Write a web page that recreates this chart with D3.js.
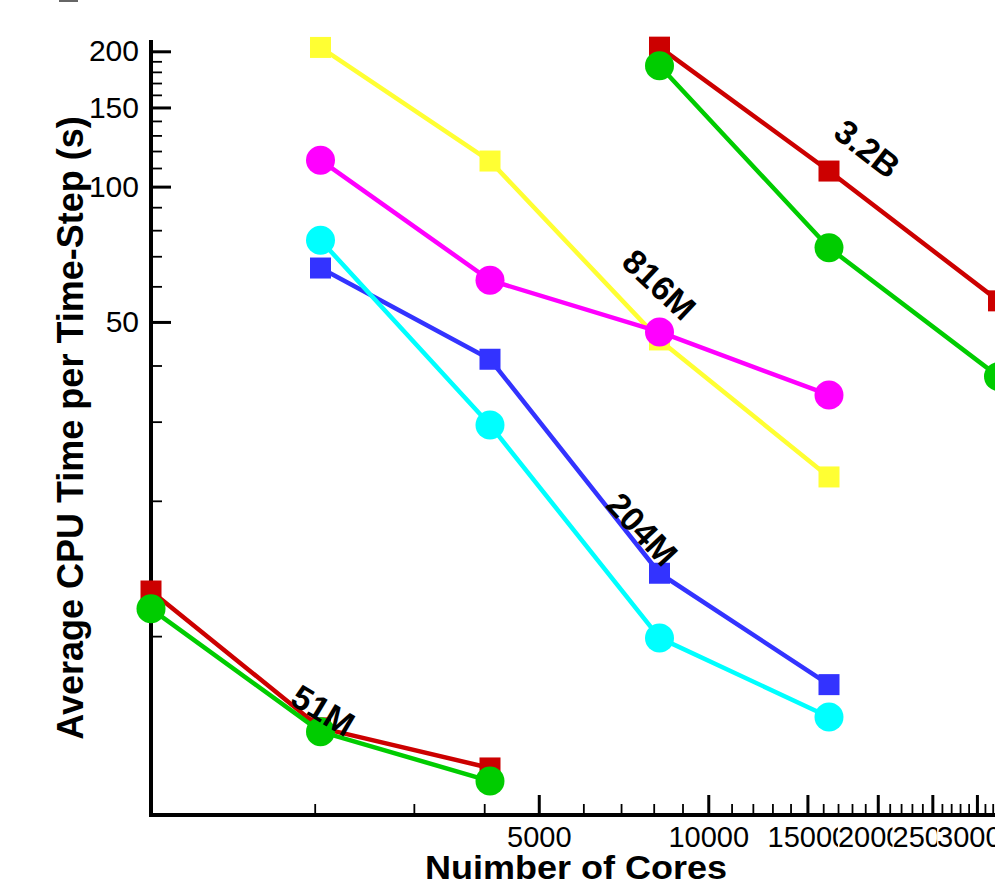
<!DOCTYPE html>
<html>
<head>
<meta charset="utf-8">
<script src="https://cdn.jsdelivr.net/npm/d3@7"></script>
<style>
  body { margin: 0; background: #fff; }
  svg { display: block; font-family: "Liberation Sans", Arial, Helvetica, sans-serif; }
</style>
</head>
<body>
<div id="chart"></div>
<script>
// number of cores used in the runs
const cores = [1024, 2048, 4096, 8192, 16384, 32768];
const cores51M = [1024, 2048, 4096];
const cores204M = [2048, 4096, 8192, 16384];
const cores816M = [2048, 4096, 8192, 16384];
const cores32B = [8192, 16384, 32768];

// average cpu time per time-step (s)
const sq51M = [12.6, 6.25, 5.09];
const ci51M = [11.5, 6.13, 4.76];
const sq204M = [65.9, 41.3, 13.8, 7.8];
const ci204M = [76.0, 29.5, 9.91, 6.61];
const sq816M = [204, 114, 45.6, 22.6];
const ci816M = [114.5, 61.9, 47.5, 34.4];
const sq32B = [204.3, 108.3, 55.7];
const ci32B = [185.8, 73.1, 37.8];

// axis ticks
const xMajor = [5000, 10000, 15000, 20000, 25000, 30000];
const xMinor = d3.range(2000, 33000, 1000).filter((v) => v % 5000 !== 0);
const yMajor = [50, 100, 150, 200];
const yMinor = [10, 20, 30, 40, 60, 70, 80, 90, 110, 120, 130, 140, 160, 170, 180, 190];

// mesh size labels (placed in data coords)
const meshLabels = ["51M", "204M", "816M", "3.2B"];
const labelCores = [2070, 7640, 8192, 19180];
const labelTimes = [6.85, 17.3, 60.6, 121.6];
const labelAngles = [31, 47, 43, 38];

const width = 995,
  height = 886;

const svg = d3
  .select("#chart")
  .append("svg")
  .attr("width", width)
  .attr("height", height)
  .attr("viewBox", `0 0 ${width} ${height}`);

svg.append("rect").attr("width", width).attr("height", height).attr("fill", "#fff");
svg.append("rect").attr("x", 59).attr("y", 0).attr("width", 19).attr("height", 2).attr("fill", "#666");

const xScale = d3.scaleLog().domain([1024, 32768]).range([151, 998.5]);
const yScale = d3.scaleLog().domain([4, 200]).range([815, 51.3]);

// x axis
const xMinorGroup = svg
  .append("g")
  .attr("transform", "translate(0, 815)")
  .call(d3.axisBottom(xScale).tickValues(xMinor).tickSizeInner(-11).tickSizeOuter(0).tickFormat(""));
xMinorGroup.select(".domain").remove();
xMinorGroup.selectAll("line").attr("stroke", "#000").attr("stroke-width", 1.8);

const xMajorGroup = svg
  .append("g")
  .attr("transform", "translate(0, 815)")
  .call(
    d3
      .axisBottom(xScale)
      .tickValues(xMajor)
      .tickSizeInner(-20)
      .tickSizeOuter(0)
      .tickPadding(11)
      .tickFormat(d3.format("d"))
  );
xMajorGroup.select(".domain").remove();
xMajorGroup.selectAll("line").attr("stroke", "#000").attr("stroke-width", 3);
xMajorGroup
  .selectAll("text")
  .attr("font-family", "Liberation Sans, Arial, sans-serif")
  .attr("font-size", 29)
  .attr("fill", "#000");
// labels are boxed in white, so the later ones hide the earlier ones
xMajorGroup.selectAll(".tick").each(function () {
  const t = d3.select(this).select("text");
  const b = t.node().getBBox();
  d3.select(this)
    .insert("rect", "text")
    .attr("x", b.x)
    .attr("y", b.y)
    .attr("width", b.width)
    .attr("height", b.height)
    .attr("fill", "#fff");
});

// y axis
const yMinorGroup = svg
  .append("g")
  .attr("transform", "translate(151, 0)")
  .call(d3.axisLeft(yScale).tickValues(yMinor).tickSizeInner(-11).tickSizeOuter(0).tickFormat(""));
yMinorGroup.select(".domain").remove();
yMinorGroup.selectAll("line").attr("stroke", "#000").attr("stroke-width", 1.8);

const yMajorGroup = svg
  .append("g")
  .attr("transform", "translate(151, 0)")
  .call(
    d3
      .axisLeft(yScale)
      .tickValues(yMajor)
      .tickSizeInner(-20)
      .tickSizeOuter(0)
      .tickPadding(12)
      .tickFormat(d3.format("d"))
  );
yMajorGroup.select(".domain").remove();
yMajorGroup.selectAll("line").attr("stroke", "#000").attr("stroke-width", 3);
yMajorGroup
  .selectAll("text")
  .attr("font-family", "Liberation Sans, Arial, sans-serif")
  .attr("font-size", 30)
  .attr("fill", "#000");

// axis lines
svg.append("line").attr("x1", 149).attr("x2", width).attr("y1", 815).attr("y2", 815).attr("stroke", "#000").attr("stroke-width", 4);
svg.append("line").attr("x1", 151).attr("x2", 151).attr("y1", 40).attr("y2", 817).attr("stroke", "#000").attr("stroke-width", 4);

// titles
svg
  .append("text")
  .attr("x", 576)
  .attr("y", 879)
  .attr("text-anchor", "middle")
  .attr("font-size", 33)
  .attr("font-weight", "bold")
  .attr("textLength", 302)
  .attr("lengthAdjust", "spacingAndGlyphs")
  .text("Nuimber of Cores");

svg
  .append("text")
  .attr("transform", "translate(83, 428) rotate(-90)")
  .attr("text-anchor", "middle")
  .attr("font-size", 36)
  .attr("font-weight", "bold")
  .text("Average CPU Time per Time-Step (s)");

// series: squares first, circles drawn over them
const series = [
  { xs: cores51M, ys: sq51M, color: "#cc0000", shape: "square" },
  { xs: cores51M, ys: ci51M, color: "#00cc00", shape: "circle" },
  { xs: cores204M, ys: sq204M, color: "#3333ff", shape: "square" },
  { xs: cores204M, ys: ci204M, color: "#00ffff", shape: "circle" },
  { xs: cores816M, ys: sq816M, color: "#ffff33", shape: "square" },
  { xs: cores816M, ys: ci816M, color: "#ff00ff", shape: "circle" },
  { xs: cores32B, ys: sq32B, color: "#cc0000", shape: "square" },
  { xs: cores32B, ys: ci32B, color: "#00cc00", shape: "circle" },
];

const line = d3
  .line()
  .x((d) => xScale(d[0]))
  .y((d) => yScale(d[1]));

series.forEach((s) => {
  const pts = s.xs.map((c, i) => [c, s.ys[i]]);
  const g = svg.append("g");
  g.append("path")
    .attr("d", line(pts))
    .attr("fill", "none")
    .attr("stroke", s.color)
    .attr("stroke-width", 4.5)
    .attr("stroke-linejoin", "round");
  if (s.shape === "square") {
    g.selectAll("rect")
      .data(pts)
      .enter()
      .append("rect")
      .attr("x", (d) => xScale(d[0]) - 10.5)
      .attr("y", (d) => yScale(d[1]) - 10.5)
      .attr("width", 21)
      .attr("height", 21)
      .attr("fill", s.color);
  } else {
    g.selectAll("circle")
      .data(pts)
      .enter()
      .append("circle")
      .attr("cx", (d) => xScale(d[0]))
      .attr("cy", (d) => yScale(d[1]))
      .attr("r", 14.5)
      .attr("fill", s.color);
  }
});

// mesh size labels
svg
  .append("g")
  .selectAll("text")
  .data(meshLabels)
  .enter()
  .append("text")
  .attr(
    "transform",
    (d, i) => `translate(${xScale(labelCores[i])}, ${yScale(labelTimes[i])}) rotate(${labelAngles[i]})`
  )
  .attr("text-anchor", "middle")
  .attr("dy", "0.36em")
  .attr("font-size", 34)
  .attr("font-weight", "bold")
  .attr("fill", "#000")
  .text((d) => d);
</script>
</body>
</html>
